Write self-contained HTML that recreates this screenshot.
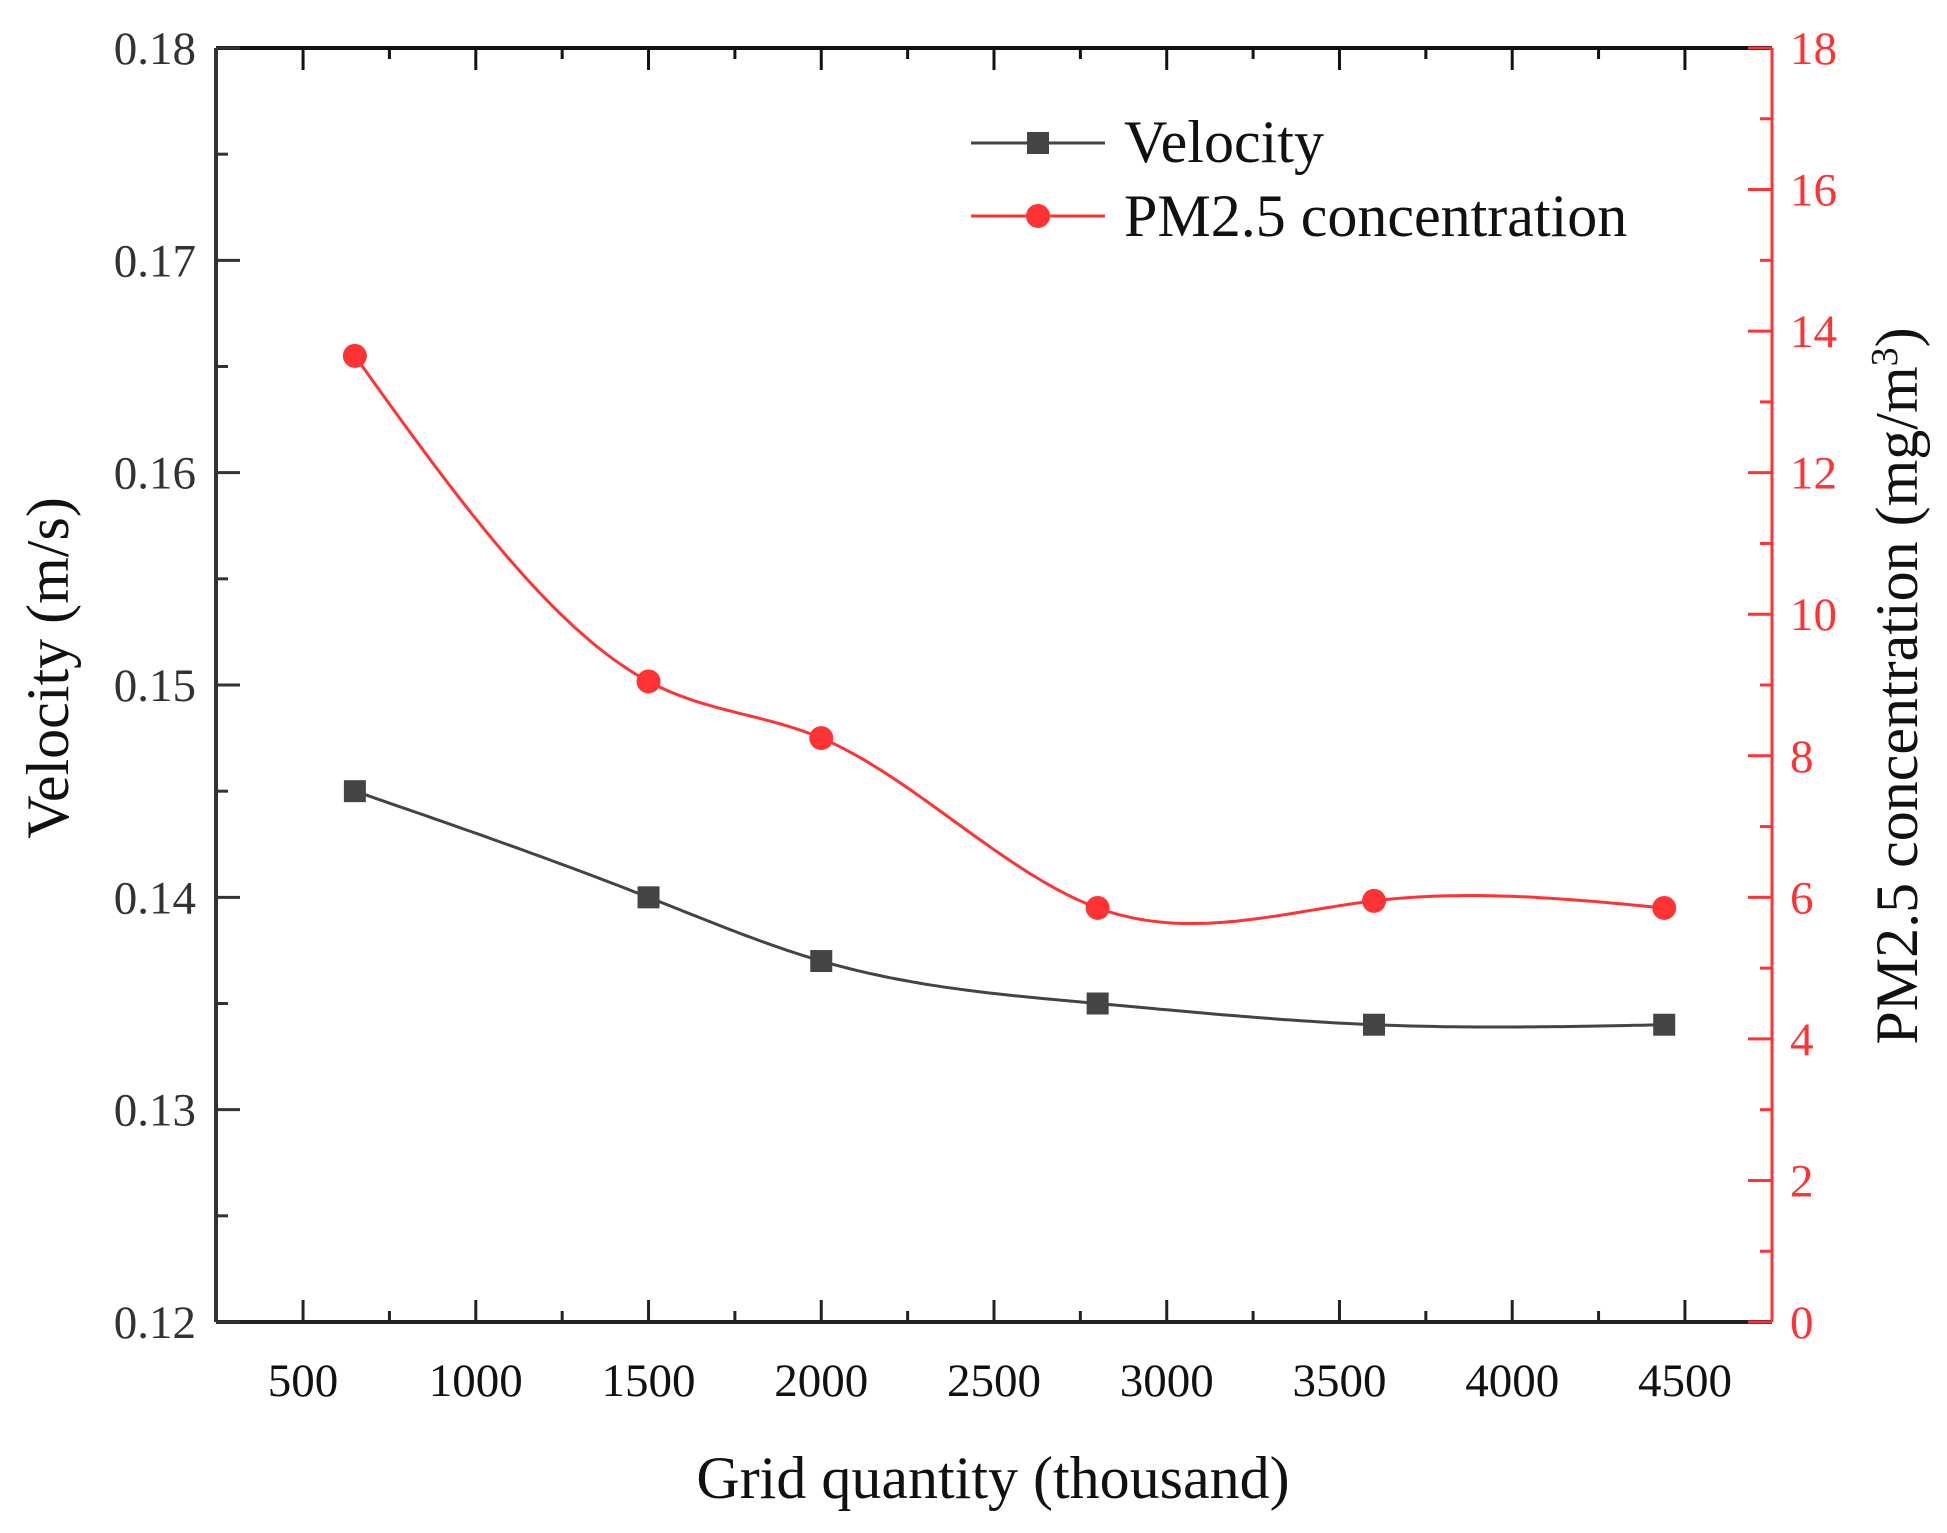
<!DOCTYPE html>
<html><head><meta charset="utf-8"><style>
body{margin:0;background:#fff}
svg{display:block;font-family:"Liberation Serif",serif}
</style></head><body>
<svg id="c" width="1947" height="1533" viewBox="0 0 1947 1533"></svg>
<script>
const gridX=[650,1500,2000,2800,3600,4440];
const velocity=[0.145,0.140,0.137,0.135,0.134,0.134];
const pm25=[13.65,9.05,8.25,5.85,5.95,5.85];
const xTicks=[500,1000,1500,2000,2500,3000,3500,4000,4500];
const yLeftTicks=[0.12,0.13,0.14,0.15,0.16,0.17,0.18];
const yRightTicks=[0,2,4,6,8,10,12,14,16,18];

const L=216,R=1772,T=48,B=1322;
const xMin=248,xMax=4752;
const sx=v=>L+(v-xMin)/(xMax-xMin)*(R-L);
const syL=v=>B-(v-0.12)/0.06*(B-T);
const syR=v=>B-v/18*(B-T);
const svg=document.getElementById('c');
const NS='http://www.w3.org/2000/svg';
function mk(tag,attrs,parent){const e=document.createElementNS(NS,tag);for(const k in attrs)e.setAttribute(k,attrs[k]);(parent||svg).appendChild(e);return e;}
function line(x1,y1,x2,y2,c,w,parent){return mk('line',{x1,y1,x2,y2,stroke:c,'stroke-width':w},parent);}
function txt(s,x,y,size,fill,anchor,extra){const t=mk('text',Object.assign({x,y,'font-size':size,fill,'text-anchor':anchor},extra||{}));t.textContent=s;return t;}

let a=line(L,T,R,T,'#111',4);
a=line(L,T,L,B,'#333',4);
a=line(L,B,R,B,'#222',4);
a=line(R,T,R,B,'#f33',3);

for(let v=250;v<=4750;v+=250){const x=sx(v);if(x<L+2||x>R-2)continue;const maj=v%500===0;const len=maj?22:11;
line(x,B,x,B-len,'#222',3);line(x,T,x,T+len,'#111',3);}
xTicks.forEach(v=>{const t=txt(String(v),sx(v),B+74,47,'#111','middle');});
for(let i=0;i<=12;i++){const v=0.12+i*0.005;const y=syL(v);const maj=i%2===0;line(L,y,L+(maj?24:12),y,'#333',3);}
yLeftTicks.forEach(v=>{const t=txt(v.toFixed(2),L-20,syL(v)+16,47,'#333','end');});
for(let v=0;v<=18;v++){const y=syR(v);const maj=v%2===0;line(R,y,R-(maj?24:12),y,'#f33',3);}
yRightTicks.forEach(v=>{const t=txt(String(v),R+18,syR(v)+16,47,'#f33','start');});

// natural cubic spline in data space
function spline(xs,ys,sxf,syf){const n=xs.length,h=[],al=[],l=[1],mu=[0],z=[0],c=new Array(n).fill(0),b=[],d=[];
for(let i=0;i<n-1;i++)h.push(xs[i+1]-xs[i]);
for(let i=1;i<n-1;i++)al[i]=3/h[i]*(ys[i+1]-ys[i])-3/h[i-1]*(ys[i]-ys[i-1]);
for(let i=1;i<n-1;i++){l[i]=2*(xs[i+1]-xs[i-1])-h[i-1]*mu[i-1];mu[i]=h[i]/l[i];z[i]=(al[i]-h[i-1]*z[i-1])/l[i];}
for(let j=n-2;j>=0;j--){c[j]=(j===0?0:z[j]-mu[j]*c[j+1]);if(j===0)c[0]=0;b[j]=(ys[j+1]-ys[j])/h[j]-h[j]*(c[j+1]+2*c[j])/3;d[j]=(c[j+1]-c[j])/(3*h[j]);}
let p='';
for(let j=0;j<n-1;j++)for(let k=0;k<=40;k++){const t=h[j]*k/40;const y=ys[j]+b[j]*t+c[j]*t*t+d[j]*t*t*t;
p+=(p?'L':'M')+sxf(xs[j]+t).toFixed(1)+','+syf(y).toFixed(1);}
return p;}
let p=mk('path',{d:spline(gridX,velocity,sx,syL),fill:'none',stroke:'#444','stroke-width':3});

p=mk('path',{d:spline(gridX,pm25,sx,syR),fill:'none',stroke:'#f33','stroke-width':3});

gridX.forEach((g,i)=>{const r=mk('rect',{x:sx(g)-11,y:syL(velocity[i])-11,width:22,height:22,fill:'#444'});

const c=mk('circle',{cx:sx(g),cy:syR(pm25[i]),r:12,fill:'#f33'});
});

const lg=mk('g',{});
line(971,143,1105,143,'#444',3,lg);
mk('rect',{x:1027,y:132,width:22,height:22,fill:'#444'},lg);
let t=mk('text',{x:1124,y:162,'font-size':60,fill:'#111'},lg);t.textContent='Velocity';

line(971,216,1105,216,'#f33',3,lg);
mk('circle',{cx:1038,cy:216,r:12,fill:'#f33'},lg);
t=mk('text',{x:1124,y:236,'font-size':60,fill:'#111'},lg);t.textContent='PM2.5 concentration';


t=txt('Grid quantity (thousand)',993,1498,60,'#111','middle');
t=txt('Velocity (m/s)',0,0,60,'#111','middle',{transform:'translate(68,668) rotate(-90)'});
t=mk('text',{'font-size':60,fill:'#111','text-anchor':'middle',transform:'translate(1917,686) rotate(-90)'});
t.innerHTML='PM2.5 concentration (mg/m<tspan dy="-20" font-size="38">3</tspan><tspan dy="20">)</tspan>';

</script>
</body></html>
